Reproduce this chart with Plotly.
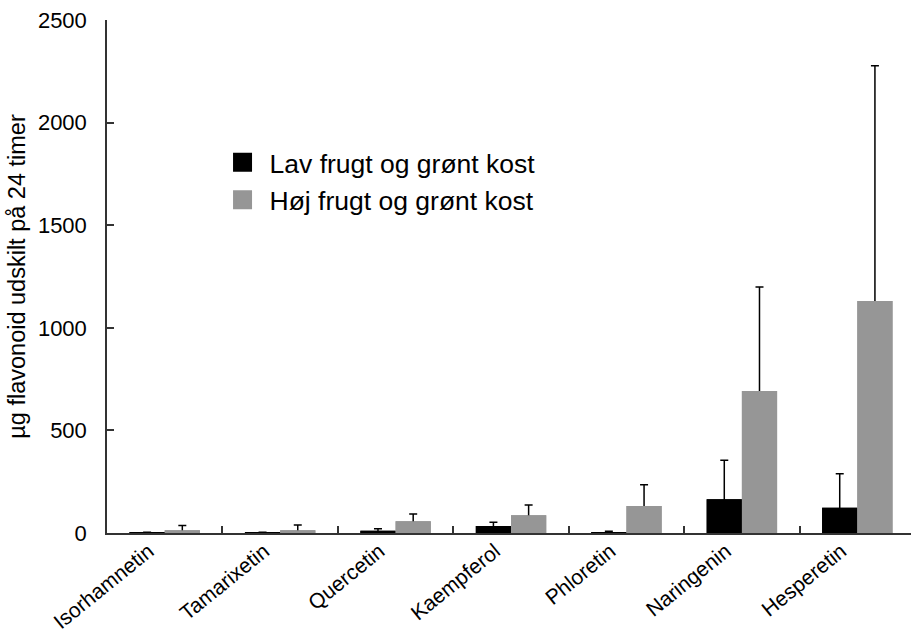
import plotly.graph_objects as go

categories = ["Isorhamnetin", "Tamarixetin", "Quercetin", "Kaempferol",
              "Phloretin", "Naringenin", "Hesperetin"]
low_values = [2, 2, 11, 34, 3, 164, 123]
low_errors = [2, 2, 10, 18, 5, 190, 166]
high_values = [13, 13, 57, 87, 131, 692, 1131]
high_errors = [23, 26, 35, 49, 104, 507, 1146]
series_names = ["Lav frugt og grønt kost", "Høj frugt og grønt kost"]
series_colors = ["#000000", "#969696"]
y_ticks = [0, 500, 1000, 1500, 2000, 2500]

FONT = "Liberation Sans, Arial, sans-serif"

fig = go.Figure()
series = [(low_values, low_errors), (high_values, high_errors)]
# bars with upward error bars (lower end of the bar hidden under the bar itself)
for i, (vals, errs) in enumerate(series):
    fig.add_trace(go.Bar(
        x=categories, y=vals, name=series_names[i], offsetgroup=str(i),
        marker=dict(color=series_colors[i], line=dict(width=0)),
        error_y=dict(type="data", array=errs, arrayminus=vals, symmetric=False,
                     color="#000000", thickness=1.5, width=4),
        showlegend=False, hoverinfo="skip",
    ))
# same bars drawn again on top so only the upper part of the error bar shows
for i, (vals, errs) in enumerate(series):
    fig.add_trace(go.Bar(
        x=categories, y=vals, name=series_names[i], offsetgroup=str(i),
        marker=dict(color=series_colors[i], line=dict(width=0)),
        showlegend=False,
    ))
# legend entries
for i in range(2):
    fig.add_trace(go.Scatter(
        x=[None], y=[None], mode="markers", name=series_names[i],
        marker=dict(symbol="square", size=16, color=series_colors[i],
                    line=dict(width=3, color=series_colors[i])),
        showlegend=True,
    ))

fig.update_layout(
    width=911, height=637,
    margin=dict(l=107, r=0, t=20, b=104),
    paper_bgcolor="white", plot_bgcolor="white",
    barmode="group", bargap=0.39, bargroupgap=0,
    font=dict(family=FONT, color="#000000", size=20),
    showlegend=True,
    legend=dict(x=0.135, y=0.769, xanchor="left", yanchor="top",
                font=dict(size=26.5, family=FONT), bgcolor="rgba(0,0,0,0)",
                itemsizing="trace", itemwidth=44, tracegroupgap=0),
    xaxis=dict(
        type="category", range=[-0.5, 6.465], automargin=False,
        showline=True, linecolor="#333333", linewidth=1.5,
        ticks="inside", tickson="boundaries", ticklen=7, tickcolor="#333333",
        tickwidth=1.5, tickangle=-39, tickfont=dict(size=21, family=FONT),
        ticklabelshift=-16, ticklabelstandoff=-4,
        showgrid=False, zeroline=False,
    ),
    yaxis=dict(
        range=[0, 2500], tickvals=y_ticks, automargin=False,
        showline=True, linecolor="#333333", linewidth=1.5,
        ticks="inside", ticklen=7, tickcolor="#333333", tickwidth=1.5,
        tickfont=dict(size=22, family=FONT), ticklabelstandoff=14,
        showgrid=False, zeroline=False,
        title=dict(text="µg flavonoid udskilt på 24 timer", font=dict(size=23.5, family=FONT),
                   standoff=6),
    ),
)

fig.write_html("out.html", config={"displayModeBar": False},
               post_script="document.body.style.margin='0px';")
